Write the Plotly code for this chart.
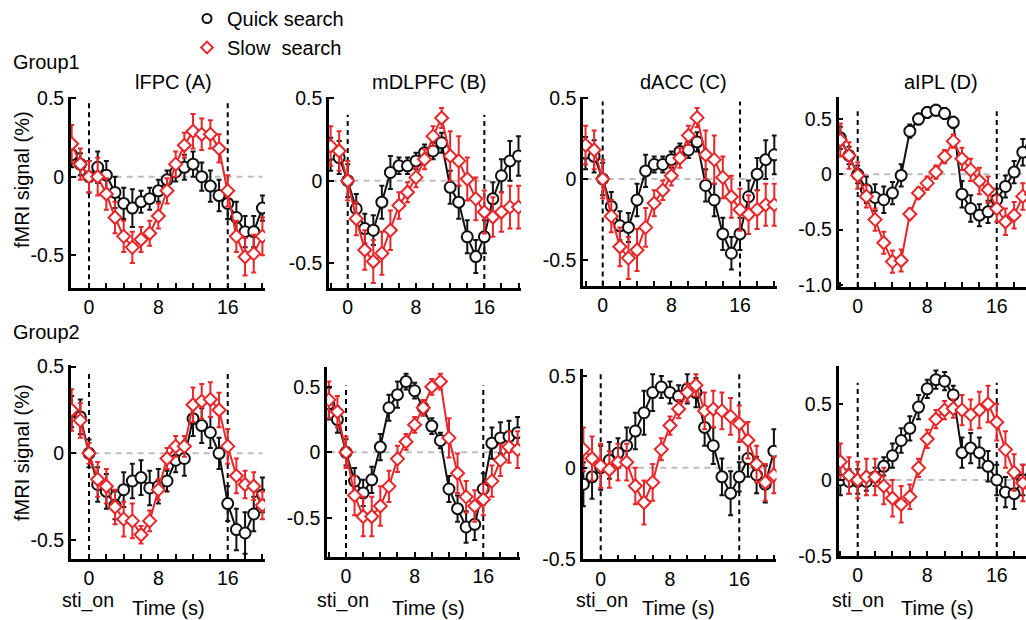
import plotly.graph_objects as go

W, H = 1026, 620

# ---------------- data ----------------
time_s = list(range(-2, 21))
events = [0, 16]

titles = ["lFPC (A)", "mDLPFC (B)", "dACC (C)", "aIPL (D)"]
group_labels = ["Group1", "Group2"]
legend_names = ["Quick search", "Slow\u00a0 search"]

# Group1
A_quick = [0.14, 0.08, 0.00, 0.06, 0.01, -0.10, -0.17, -0.20, -0.16, -0.14, -0.09, -0.02,
           0.03, 0.06, 0.08, 0.00, -0.06, -0.12, -0.17, -0.26, -0.35, -0.35, -0.20]
A_slow = [0.21, 0.08, 0.00, 0.00, -0.11, -0.26, -0.38, -0.45, -0.40, -0.36, -0.25, -0.09,
          0.08, 0.20, 0.29, 0.27, 0.27, 0.18, -0.09, -0.38, -0.51, -0.49, -0.38]
A_quick_err = [0.08, 0.07, 0.10, 0.10, 0.09, 0.10, 0.10, 0.12, 0.07, 0.07, 0.07, 0.06,
               0.06, 0.08, 0.08, 0.09, 0.10, 0.10, 0.10, 0.10, 0.10, 0.10, 0.08]
A_slow_err = [0.12, 0.10, 0.10, 0.12, 0.10, 0.10, 0.10, 0.10, 0.08, 0.08, 0.08, 0.08,
              0.08, 0.08, 0.11, 0.10, 0.09, 0.09, 0.10, 0.10, 0.12, 0.12, 0.12]

B_quick = [0.16, 0.14, 0.00, -0.17, -0.29, -0.30, -0.13, 0.05, 0.09, 0.09, 0.12, 0.17,
           0.18, 0.23, -0.04, -0.13, -0.34, -0.46, -0.34, -0.11, 0.03, 0.12, 0.15]
B_slow = [0.21, 0.18, 0.00, -0.23, -0.42, -0.49, -0.44, -0.30, -0.15, -0.07, 0.02, 0.13,
          0.27, 0.38, 0.15, 0.12, 0.01, -0.11, -0.19, -0.22, -0.19, -0.16, -0.16]
B_quick_err = [0.10, 0.10, 0.10, 0.09, 0.09, 0.09, 0.10, 0.10, 0.05, 0.05, 0.05, 0.05,
               0.05, 0.06, 0.10, 0.10, 0.10, 0.10, 0.10, 0.10, 0.10, 0.12, 0.12]
B_slow_err = [0.12, 0.12, 0.12, 0.10, 0.12, 0.13, 0.13, 0.12, 0.08, 0.06, 0.06, 0.06,
              0.06, 0.06, 0.15, 0.15, 0.13, 0.13, 0.13, 0.12, 0.12, 0.13, 0.13]

C_quick = [0.16, 0.14, 0.00, -0.17, -0.29, -0.30, -0.13, 0.05, 0.09, 0.09, 0.12, 0.17,
           0.18, 0.23, -0.04, -0.13, -0.34, -0.46, -0.34, -0.11, 0.03, 0.12, 0.15]
C_slow = [0.21, 0.18, 0.00, -0.23, -0.42, -0.49, -0.44, -0.30, -0.15, -0.07, 0.02, 0.13,
          0.27, 0.38, 0.15, 0.12, 0.01, -0.11, -0.19, -0.22, -0.19, -0.16, -0.16]
C_quick_err = [0.10, 0.10, 0.10, 0.09, 0.09, 0.09, 0.10, 0.10, 0.05, 0.05, 0.05, 0.05,
               0.05, 0.06, 0.10, 0.10, 0.10, 0.10, 0.10, 0.10, 0.10, 0.12, 0.12]
C_slow_err = [0.12, 0.12, 0.12, 0.10, 0.12, 0.13, 0.13, 0.12, 0.08, 0.06, 0.06, 0.06,
              0.06, 0.06, 0.15, 0.15, 0.13, 0.13, 0.13, 0.12, 0.12, 0.13, 0.13]

D_quick = [0.33, 0.17, 0.00, -0.14, -0.21, -0.23, -0.17, -0.01, 0.39, 0.50, 0.56, 0.58,
           0.55, 0.47, -0.18, -0.31, -0.37, -0.34, -0.23, -0.11, 0.02, 0.20, 0.25]
D_slow = [0.31, 0.17, -0.01, -0.20, -0.41, -0.62, -0.79, -0.78, -0.36, -0.17, -0.08, 0.02,
          0.16, 0.30, 0.14, 0.04, -0.06, -0.14, -0.31, -0.43, -0.37, -0.20, -0.18]
D_quick_err = [0.10, 0.08, 0.08, 0.12, 0.12, 0.12, 0.10, 0.10, 0.06, 0.05, 0.05, 0.05,
               0.05, 0.05, 0.12, 0.12, 0.10, 0.10, 0.10, 0.10, 0.10, 0.12, 0.12]
D_slow_err = [0.15, 0.12, 0.12, 0.10, 0.10, 0.10, 0.10, 0.10, 0.05, 0.05, 0.06, 0.06,
              0.06, 0.06, 0.10, 0.10, 0.12, 0.12, 0.12, 0.12, 0.12, 0.12, 0.12]

# Group2
E_quick = [0.24, 0.21, 0.00, -0.18, -0.22, -0.30, -0.21, -0.16, -0.14, -0.20, -0.19, -0.16,
           -0.04, -0.03, 0.20, 0.16, 0.12, 0.00, -0.29, -0.44, -0.46, -0.35, -0.24]
E_slow = [0.25, 0.19, 0.00, -0.15, -0.19, -0.31, -0.38, -0.39, -0.47, -0.39, -0.21, -0.03,
          0.04, 0.04, 0.28, 0.30, 0.31, 0.25, 0.04, -0.13, -0.18, -0.19, -0.30]
E_quick_err = [0.09, 0.10, 0.08, 0.10, 0.10, 0.08, 0.10, 0.10, 0.10, 0.10, 0.10, 0.06,
               0.07, 0.10, 0.10, 0.10, 0.09, 0.09, 0.10, 0.12, 0.12, 0.10, 0.10]
E_slow_err = [0.12, 0.10, 0.06, 0.10, 0.10, 0.10, 0.10, 0.10, 0.05, 0.06, 0.06, 0.06,
              0.06, 0.06, 0.10, 0.10, 0.10, 0.10, 0.10, 0.10, 0.08, 0.08, 0.08]

F_quick = [0.37, 0.25, 0.00, -0.22, -0.31, -0.21, 0.04, 0.34, 0.44, 0.54, 0.47, 0.34,
           0.20, 0.09, -0.28, -0.43, -0.57, -0.55, -0.28, 0.07, 0.11, 0.12, 0.15]
F_slow = [0.40, 0.31, 0.00, -0.33, -0.49, -0.49, -0.41, -0.26, -0.05, 0.08, 0.21, 0.34,
          0.50, 0.54, 0.11, -0.16, -0.34, -0.41, -0.36, -0.22, -0.06, 0.04, 0.02]
F_quick_err = [0.12, 0.10, 0.10, 0.10, 0.10, 0.10, 0.10, 0.10, 0.10, 0.06, 0.06, 0.06,
               0.06, 0.06, 0.10, 0.10, 0.12, 0.12, 0.12, 0.12, 0.12, 0.12, 0.12]
F_slow_err = [0.14, 0.12, 0.12, 0.15, 0.15, 0.15, 0.15, 0.12, 0.10, 0.06, 0.06, 0.06,
              0.06, 0.06, 0.15, 0.15, 0.12, 0.12, 0.12, 0.12, 0.12, 0.12, 0.14]

G_quick = [-0.09, -0.05, 0.00, 0.04, 0.08, 0.12, 0.20, 0.30, 0.41, 0.44, 0.41, 0.39,
           0.43, 0.41, 0.22, 0.12, -0.05, -0.14, -0.05, 0.05, -0.04, -0.09, 0.09]
G_slow = [0.10, 0.05, 0.01, -0.01, 0.03, 0.03, -0.10, -0.19, -0.08, 0.10, 0.23, 0.32,
          0.41, 0.45, 0.31, 0.32, 0.31, 0.28, 0.24, 0.15, 0.02, -0.08, -0.04]
G_quick_err = [0.12, 0.12, 0.12, 0.10, 0.08, 0.10, 0.10, 0.12, 0.10, 0.06, 0.06, 0.06,
               0.08, 0.08, 0.10, 0.10, 0.10, 0.12, 0.08, 0.10, 0.10, 0.10, 0.12]
G_slow_err = [0.12, 0.12, 0.12, 0.10, 0.10, 0.10, 0.10, 0.12, 0.10, 0.06, 0.05, 0.05,
              0.05, 0.06, 0.10, 0.10, 0.10, 0.10, 0.10, 0.10, 0.10, 0.10, 0.10]

H_quick = [0.00, -0.01, -0.01, -0.01, 0.02, 0.09, 0.16, 0.26, 0.34, 0.48, 0.60, 0.66,
           0.65, 0.56, 0.18, 0.21, 0.18, 0.09, 0.00, -0.08, -0.09, 0.00, 0.03]
H_slow = [0.12, 0.03, 0.00, 0.02, 0.02, -0.04, -0.12, -0.16, -0.11, 0.08, 0.27, 0.40,
          0.46, 0.47, 0.46, 0.43, 0.46, 0.50, 0.38, 0.20, 0.05, -0.02, -0.05]
H_quick_err = [0.10, 0.08, 0.08, 0.06, 0.06, 0.06, 0.08, 0.08, 0.08, 0.08, 0.06, 0.06,
               0.06, 0.06, 0.10, 0.10, 0.10, 0.10, 0.10, 0.10, 0.10, 0.10, 0.10]
H_slow_err = [0.12, 0.12, 0.12, 0.12, 0.12, 0.12, 0.12, 0.12, 0.08, 0.06, 0.06, 0.06,
              0.06, 0.06, 0.10, 0.10, 0.12, 0.12, 0.12, 0.12, 0.12, 0.12, 0.12]

quick = [A_quick, B_quick, C_quick, D_quick, E_quick, F_quick, G_quick, H_quick]
slow = [A_slow, B_slow, C_slow, D_slow, E_slow, F_slow, G_slow, H_slow]
quick_err = [A_quick_err, B_quick_err, C_quick_err, D_quick_err,
             E_quick_err, F_quick_err, G_quick_err, H_quick_err]
slow_err = [A_slow_err, B_slow_err, C_slow_err, D_slow_err,
            E_slow_err, F_slow_err, G_slow_err, H_slow_err]

y_ticks = [[-0.5, 0, 0.5]] * 3 + [[-1.0, -0.5, 0, 0.5]] + [[-0.5, 0, 0.5]] * 4
y_ticktext = [["-0.5", "0", "0.5"]] * 3 + [["-1.0", "-0.5", "0", "0.5"]] + [["-0.5", "0", "0.5"]] * 4
x_ticks = [0, 8, 16]
x_ticktext = ["0", "8", "16"]

# ---------------- layout geometry (pixels) ----------------
# x: (pixel of t=0, px per second, xmin, xmax)
xgeo = [(89.0, 8.67, -2.1, 20.3), (347.7, 8.54, -2.2, 20.3), (602.7, 8.58, -2.3, 20.3),
        (857.7, 8.69, -2.2, None),
        (89.0, 8.67, -2.1, 20.3), (346.0, 8.58, -2.2, 20.3), (600.7, 8.66, -2.1, 20.3),
        (857.7, 8.69, -2.2, None)]
# y: (pixel of 0, px per unit, ymin, ymax)
ygeo = [(176.7, 157.0, -0.71, 0.51), (180.7, 165.0, -0.65, 0.51), (179.0, 161.4, -0.66, 0.51),
        (174.3, 110.5, -1.02, 0.70),
        (453.3, 173.3, -0.61, 0.51), (452.3, 131.0, -0.80, 0.65), (467.7, 183.3, -0.50, 0.54),
        (480.0, 152.0, -0.50, 0.75)]
vline_top = [0.48, 0.40, 0.48, 0.57, 0.48, 0.51, 0.52, 0.64]

BLACK = "#111111"
RED = "#e8262a"
FONT = "Liberation Sans, Arial, Helvetica, sans-serif"
FS = 20
TFS = 19.5

fig = go.Figure()
layout = dict(
    width=W, height=H, margin=dict(l=0, r=0, t=0, b=0, pad=0, autoexpand=False),
    paper_bgcolor="white", plot_bgcolor="white",
    font=dict(family=FONT, size=FS, color="black"),
    showlegend=True,
)
shapes = []
annotations = []

for i in range(8):
    n = i + 1
    xa = "x" if n == 1 else f"x{n}"
    ya = "y" if n == 1 else f"y{n}"
    x0p, pps, xmin, xmax = xgeo[i]
    if xmax is None:
        xmax = (W - x0p) / pps
    L = x0p + xmin * pps
    R = x0p + xmax * pps
    y0p, ppu, ymin, ymax = ygeo[i]
    T = y0p - ymax * ppu
    B = y0p - ymin * ppu

    layout["xaxis" if n == 1 else f"xaxis{n}"] = dict(
        domain=[max(L / W, 0), min(R / W, 1)], range=[xmin, xmax], anchor=ya,
        showline=True, linecolor="black", linewidth=2.5, showgrid=False, zeroline=False,
        ticks="inside", ticklen=5, tickwidth=2, tickcolor="black",
        tickmode="array", tickvals=x_ticks, ticktext=x_ticktext,
        tickfont=dict(size=TFS, family=FONT, color="black"),
        minor=dict(ticks="inside", ticklen=5, tickwidth=2, tickcolor="black",
                   tick0=0, dtick=2, showgrid=False),
        fixedrange=True,
    )
    layout["yaxis" if n == 1 else f"yaxis{n}"] = dict(
        domain=[1 - B / H, 1 - T / H], range=[ymin, ymax], anchor=xa,
        showline=True, linecolor="black", linewidth=2.5, showgrid=False, zeroline=False,
        ticks="inside", ticklen=5, tickwidth=2, tickcolor="black",
        tickmode="array", tickvals=y_ticks[i], ticktext=y_ticktext[i],
        tickfont=dict(size=TFS, family=FONT, color="black"),
        fixedrange=True,
    )

    # reference lines
    shapes.append(dict(type="line", xref=xa, yref=ya, x0=time_s[0], x1=time_s[-1], y0=0, y1=0,
                       line=dict(color="#bdbdbd", width=2, dash="6px,5px"), layer="below"))
    for ev in events:
        shapes.append(dict(type="line", xref=xa, yref=ya, x0=ev, x1=ev, y0=ymin, y1=vline_top[i],
                           line=dict(color="black", width=2, dash="5px,4px"), layer="below"))

    fig.add_trace(go.Scatter(
        x=time_s, y=quick[i], xaxis=xa, yaxis=ya, mode="lines+markers", showlegend=False,
        line=dict(color=BLACK, width=2),
        marker=dict(symbol="circle", size=11, color="white", line=dict(color=BLACK, width=2)),
        error_y=dict(type="data", array=quick_err[i], color=BLACK, thickness=2, width=2.5),
    ))
    fig.add_trace(go.Scatter(
        x=time_s, y=slow[i], xaxis=xa, yaxis=ya, mode="lines+markers", showlegend=False,
        line=dict(color=RED, width=2),
        marker=dict(symbol="diamond", size=10, color="white", line=dict(color=RED, width=2)),
        error_y=dict(type="data", array=slow_err[i], color=RED, thickness=2, width=2.5),
    ))

# legend entries
fig.add_trace(go.Scatter(x=[None], y=[None], mode="markers", name=legend_names[0],
                         marker=dict(symbol="circle", size=9, color="white",
                                     line=dict(color=BLACK, width=2)), legend="legend"))
fig.add_trace(go.Scatter(x=[None], y=[None], mode="markers", name=legend_names[1],
                         marker=dict(symbol="diamond", size=9, color="white",
                                     line=dict(color=RED, width=2)), legend="legend2"))
layout["legend"] = dict(x=187 / W, y=1 + 1 / H, xanchor="left", yanchor="top",
                        bgcolor="rgba(0,0,0,0)", font=dict(size=FS, family=FONT),
                        itemwidth=30)
layout["legend2"] = dict(x=187 / W, y=1 - 28 / H, xanchor="left", yanchor="top",
                         bgcolor="rgba(0,0,0,0)", font=dict(size=FS, family=FONT),
                         itemwidth=30)

# panel titles
title_pos = [(173, 82), (429, 82), (683, 82), (941, 82)]
for t, (px, py) in zip(titles, title_pos):
    annotations.append(dict(text=t, x=px / W, y=1 - py / H, xref="paper", yref="paper",
                            showarrow=False, xanchor="center", yanchor="middle",
                            font=dict(size=FS, family=FONT)))

for txt, py in zip(group_labels, [62, 332]):
    annotations.append(dict(text=txt, x=11 / W, y=1 - py / H, xref="paper", yref="paper",
                            showarrow=False, xanchor="left", yanchor="middle",
                            font=dict(size=FS, family=FONT)))

for py in [180, 453]:
    annotations.append(dict(text="fMRI signal (%)", x=22 / W, y=1 - py / H, xref="paper",
                            yref="paper", showarrow=False, textangle=-90,
                            xanchor="center", yanchor="middle",
                            font=dict(size=FS, family=FONT)))

for sx, tx in [(88, 168), (343, 428), (602, 678), (858, 937)]:
    annotations.append(dict(text="sti_on", x=sx / W, y=1 - 600 / H, xref="paper", yref="paper",
                            showarrow=False, xanchor="center", yanchor="middle",
                            borderpad=0, font=dict(size=19.5, family=FONT)))
    annotations.append(dict(text="Time (s)", x=tx / W, y=1 - 608 / H, xref="paper",
                            yref="paper", showarrow=False, xanchor="center", yanchor="middle",
                            borderpad=0, font=dict(size=FS, family=FONT)))

layout["shapes"] = shapes
layout["annotations"] = annotations
fig.update_layout(**layout)
fig.write_html("out.html", config={"displayModeBar": False},
               post_script="document.body.style.margin='0';document.body.style.overflow='hidden';")
